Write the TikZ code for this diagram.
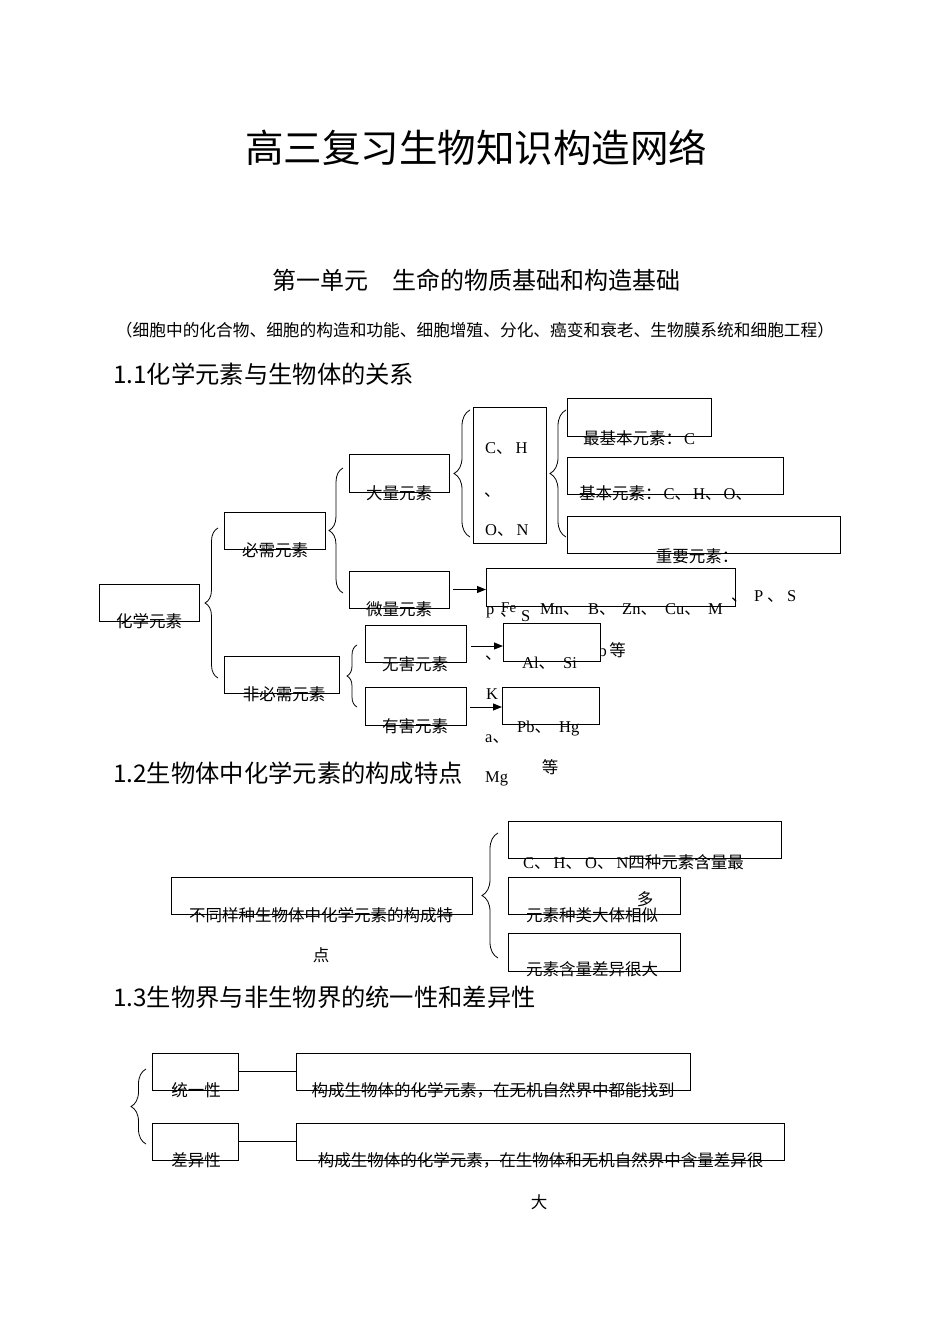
\documentclass[tikz,border=0pt]{standalone}
\usepackage{fontspec}
\setmainfont{Liberation Serif}
\newfontfamily\cjk{Noto Sans CJK SC}
\usetikzlibrary{arrows.meta,decorations.pathreplacing,calc}
\newcommand\zh[1]{{\cjk #1}}
\newcommand\bodysize{\fontsize{16.5}{18}\selectfont}
\newcommand\bx[5]{%
  \pgfmathsetmacro\bxcx{(#2+#4)/2}%
  \pgfmathsetmacro\bxcy{(#3+#5)/2}%
  \pgfmathsetmacro\bxw{#4-#2}%
  \pgfmathsetmacro\bxh{#5-#3}%
  \node[box,minimum width=\bxw pt,minimum height=\bxh pt] (#1) at (\bxcx,\bxcy) {};}
\begin{document}
\begin{tikzpicture}[x=1pt,y=-1pt,
  box/.style={draw,line width=1pt,fill=white,inner sep=0pt,outer sep=0pt},
  txt/.style={inner sep=0pt,font=\cjk\bodysize},
  lat/.style={inner sep=0pt,font=\rmfamily\bodysize},
  head/.style={inner sep=0pt,anchor=west,font=\cjk\fontsize{24.3}{26}\selectfont},
  brc/.style={decorate,decoration={brace,amplitude=#1},line width=0.8pt},
  arr/.style={-{Triangle[length=9pt,width=7pt]},line width=1pt},
  lnk/.style={line width=1pt}]
\useasboundingbox[fill=white] (0,0) rectangle (950,1344);

% headings
\node[inner sep=0pt,font=\cjk\fontsize{38.5}{40}\selectfont] (title) at (476,148) {高三复习生物知识构造网络};
\node[inner sep=0pt,font=\cjk\fontsize{24}{26}\selectfont] (unit) at (476,280) {第一单元\hspace{1em}生命的物质基础和构造基础};
\node[inner sep=0pt,font=\cjk\fontsize{16.7}{18}\selectfont] (scope) at (475,330) {（细胞中的化合物、细胞的构造和功能、细胞增殖、分化、癌变和衰老、生物膜系统和细胞工程）};
\node[head] (h11) at (113,374) {1.1化学元素与生物体的关系};
\node[head] (h12) at (113,773) {1.2生物体中化学元素的构成特点};
\node[head] (h13) at (113,997) {1.3生物界与非生物界的统一性和差异性};

% text partly hidden behind a box
\node[lat,anchor=base east] (pbh) at (607,656) {Pb};

% braces
\coordinate (b1t) at (218,528); \coordinate (b1b) at (218,678);
\coordinate (b2t) at (343,468); \coordinate (b2b) at (343,593);
\coordinate (b3t) at (357,645); \coordinate (b3b) at (357,707);
\coordinate (b4t) at (470,410); \coordinate (b4b) at (470,537);
\coordinate (b5t) at (566,410); \coordinate (b5b) at (566,537);
\coordinate (b6t) at (498,833); \coordinate (b6b) at (498,958);
\coordinate (b7t) at (146,1069); \coordinate (b7b) at (146,1144);
\draw[brc=13pt] (b1b) -- (b1t);
\draw[brc=14pt] (b2b) -- (b2t);
\draw[brc=10pt] (b3b) -- (b3t);
\draw[brc=16pt] (b4b) -- (b4t);
\draw[brc=16pt] (b5b) -- (b5t);
\draw[brc=16pt] (b6b) -- (b6t);
\draw[brc=15pt] (b7b) -- (b7t);

% boxes section 1.1
\bx{hx}{99}{584}{199}{621}
\bx{bxn}{224}{512}{325}{549}
\bx{fbx}{224}{656}{339}{693}
\bx{dl}{349}{454}{449}{492}
\bx{wl}{349}{571}{449}{608}
\bx{wh}{365}{625}{466}{662}
\bx{yh}{365}{687}{466}{725}
\bx{chon}{473}{407}{546}{543}
\bx{zjb}{567}{398}{711}{436}
\bx{jb}{567}{457}{783}{494}
\bx{zy}{567}{516}{840}{553}
\bx{wlbox}{486}{568}{735}{606}
\bx{whbox}{503}{623}{600}{661}
\bx{yhbox}{502}{687}{599}{724}
% boxes section 1.2
\bx{tz}{171}{877}{472}{914}
\bx{ta}{508}{821}{781}{858}
\bx{tb}{508}{877}{680}{914}
\bx{tc}{508}{933}{680}{971}
% boxes section 1.3
\bx{ty}{152}{1053}{238}{1090}
\bx{cy}{152}{1123}{238}{1160}
\bx{ty2}{296}{1053}{690}{1090}
\bx{cy2}{296}{1123}{784}{1160}

% arrows and links
\draw[arr] ($(wl.east)+(4,0)$) -- (wlbox.west |- wl.east);
\draw[arr] ($(wh.east)+(5,2.5)$) -- ($(whbox.west)+(0,4)$);
\draw[arr] ($(yh.east)+(4,1)$) -- ($(yhbox.west)+(0,1.5)$);
\draw[lnk] (ty.east) -- (ty2.west);
\draw[lnk] (cy.east) -- (cy2.west);

% labels section 1.1
\node[txt] (l1) at (149,621) {化学元素};
\node[txt] (l2) at (275,550) {必需元素};
\node[txt] (l3) at (284,694) {非必需元素};
\node[txt] (l4) at (399,493) {大量元素};
\node[txt] (l5) at (399,609) {微量元素};
\node[txt] (l6) at (415,664) {无害元素};
\node[txt] (l7) at (415,726) {有害元素};

\node[lat,anchor=base west] (c1) at (485,453.5) {C\zh{、}\hspace{3pt}H};
\node[txt,anchor=base west] (c2) at (484,496) {、};
\node[lat,anchor=base west] (c3) at (485,535.5) {O\zh{、}\hspace{3pt}N};

\node[txt,anchor=west] (e1) at (583,438) {最基本元素：\hspace{2pt}\rmfamily C};
\node[txt,anchor=west] (e2) at (579,493) {基本元素：\hspace{2pt}{\rmfamily C}、\hspace{2pt}{\rmfamily H}、\hspace{2pt}{\rmfamily O}、};
\node[txt] (e3) at (697,556) {重要元素：};

\node[lat,anchor=base west] (m1) at (486,614) {p};
\node[txt,anchor=base west] (m2) at (500,616) {、};
\node[lat,anchor=base west,font=\rmfamily\fontsize{15}{16}\selectfont] (m3) at (501,612) {Fe};
\node[lat,anchor=base west] (m4) at (521,621) {S};
\node[lat,anchor=base west] (m5) at (540,614) {Mn\zh{、}};
\node[lat,anchor=base west] (m6) at (588,614) {B\zh{、}};
\node[lat,anchor=base west] (m7) at (622,614) {Zn\zh{、}};
\node[lat,anchor=base west] (m8) at (665,614) {Cu\zh{、}};
\node[lat,anchor=base west] (m9) at (708,614) {M};
\node[txt,anchor=base west] (p1) at (731,601) {、};
\node[lat,anchor=base west] (p2) at (754,601) {P};
\node[txt,anchor=base west] (p3) at (767,601) {、};
\node[lat,anchor=base west] (p4) at (787,601) {S};

\node[txt,anchor=base west] (n1) at (485,659) {、};
\node[lat,anchor=base west] (n2) at (522,668) {Al\zh{、}};
\node[lat,anchor=base west] (n3) at (563,668) {Si};
\node[txt] (n4) at (617.5,650) {等};

\node[lat,anchor=base west] (k1) at (486,699) {K};
\node[lat,anchor=base west] (k2) at (517,732) {Pb\zh{、}};
\node[lat,anchor=base west] (k3) at (559,732) {Hg};
\node[lat,anchor=base west] (k4) at (485,742) {a\zh{、}};
\node[txt] (k5) at (550,767) {等};
\node[lat,anchor=base west] (k6) at (485,782) {Mg};

% labels section 1.2
\node[txt] (s1) at (321,915) {不同样种生物体中化学元素的构成特};
\node[txt] (s2) at (321,955) {点};
\node[txt,anchor=west] (s3) at (523,862) {{\rmfamily C}、\hspace{3pt}{\rmfamily H}、\hspace{3pt}{\rmfamily O}、\hspace{3pt}{\rmfamily N}四种元素含量最};
\node[txt] (s4) at (645,899) {多};
\node[txt] (s5) at (592,915) {元素种类大体相似};
\node[txt] (s6) at (592,969) {元素含量差异很大};

% labels section 1.3
\node[txt] (u1) at (196,1090) {统一性};
\node[txt] (u2) at (196,1160) {差异性};
\node[txt] (u3) at (493,1090) {构成生物体的化学元素，在无机自然界中都能找到};
\node[txt] (u4) at (540.5,1160) {构成生物体的化学元素，在生物体和无机自然界中含量差异很};
\node[txt] (u5) at (539,1202) {大};
\end{tikzpicture}
\end{document}
